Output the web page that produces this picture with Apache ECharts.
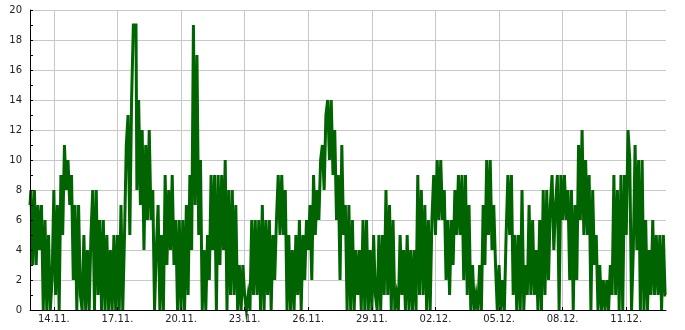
<!DOCTYPE html>
<html><head><meta charset="utf-8">
<script src="https://cdn.jsdelivr.net/npm/echarts@6/dist/echarts.min.js"></script>
<style>html,body{margin:0;padding:0;background:#fff}#c{width:685px;height:330px}</style>
</head><body><div id="c"></div>
<script>
const startTime = '2023-11-12T21:00:00Z';
const stepHours = 2;
const values = [
7,8,3,8,3,7,4,7,0,6, 0,5,0,2,8,1,7,0,9,5,
11,8,10,7,9,2,7,0,7,1, 0,5,0,4,0,5,8,0,8,1,
6,0,6,0,5,0,4,0,5,0, 5,0,7,0,5,11,13,5,14,19,
19,8,14,7,12,4,11,6,12,6, 8,0,4,7,0,5,0,9,3,8,
4,9,3,6,0,6,0,6,0,7, 1,9,4,19,7,17,5,10,0,4,
0,5,2,9,4,9,0,9,3,9, 4,10,0,8,1,8,1,7,0,3,
0,3,1,0,1,0,6,1,6,1, 6,0,7,0,6,1,6,0,5,2,
6,9,5,9,5,8,0,5,0,4, 0,5,1,6,0,5,2,6,4,7,
2,9,5,8,6,10,11,8,13,14, 10,14,9,12,6,9,2,11,5,7,
0,7,0,6,0,4,1,4,0,6, 0,6,0,4,0,5,1,0,5,0,
5,1,8,1,7,0,6,0,1,0, 5,1,4,0,5,0,4,0,4,0,
9,1,8,1,7,0,6,0,6,9, 5,10,6,10,6,8,2,6,1,6,
3,8,5,9,5,9,2,9,1,7, 0,3,0,1,0,3,0,7,3,10,
5,10,4,7,3,0,3,0,2,0, 5,9,5,9,1,5,0,5,0,8,
0,3,1,7,1,6,1,4,0,6, 0,8,1,8,2,7,9,4,7,9,
0,9,6,9,6,8,2,8,0,7, 2,11,6,12,5,10,5,9,0,8,
3,5,0,3,0,2,0,2,0,3, 1,9,1,8,0,9,0,9,5,12,
10,0,4,11,4,10,0,10,0,6, 0,4,1,6,1,5,1,5,0,5,
1
];
const tickLabels = ['14.11.','17.11.','20.11.','23.11.','26.11.','29.11.','02.12.','05.12.','08.12.','11.12.'];
const yMin = 0, yMax = 20, yStep = 2;

const t0 = Date.parse(startTime);
function hoursOf(label){
  const p = label.split('.');
  return (Date.UTC(2023, +p[1]-1, +p[0]) - t0) / 3600000;
}
const tickPos = tickLabels.map(hoursOf);
const labelAt = {};
tickLabels.forEach((l,i)=>{ labelAt[tickPos[i]] = l; });
const data = values.map((v,i)=>[i*stepHours, v]);
const spanHours = (values.length-1)*stepHours;

const chart = echarts.init(document.getElementById('c'), null, {renderer:'canvas'});
chart.setOption({
  animation:false,
  grid:{left:30,right:19,top:10,bottom:20},
  xAxis:[{
    type:'value', min:0, max:spanHours, z:5,
    axisLine:{show:true,lineStyle:{color:'#000',width:1}},
    axisTick:{show:true,inside:true,length:3,customValues:tickPos,lineStyle:{color:'#000'}},
    axisLabel:{customValues:tickPos,formatter:v=>labelAt[v]||'',fontSize:10,color:'#222',margin:4,fontFamily:'DejaVu Sans'},
    splitLine:{show:false}
  },{
    type:'value', min:0, max:spanHours, z:0, position:'bottom',
    axisLine:{show:false},
    axisTick:{show:false,customValues:tickPos},
    axisLabel:{show:false,customValues:tickPos},
    splitLine:{show:true,lineStyle:{color:'#c8c8c8',width:1}}
  }],
  yAxis:[{
    type:'value', min:yMin, max:yMax, interval:yStep, z:5,
    axisLine:{show:true,lineStyle:{color:'#000',width:1}},
    axisTick:{show:true,inside:true,length:3,lineStyle:{color:'#000'}},
    minorTick:{show:true,splitNumber:2,length:3,lineStyle:{color:'#000'}},
    axisLabel:{fontSize:10,color:'#222',margin:8,fontFamily:'DejaVu Sans'},
    splitLine:{show:false}
  },{
    type:'value', min:yMin, max:yMax, interval:yStep, z:0, position:'left',
    axisLine:{show:false}, axisTick:{show:false}, axisLabel:{show:false},
    splitLine:{show:true,lineStyle:{color:'#c8c8c8',width:1}}
  }],
  series:[{
    type:'line', xAxisIndex:0, yAxisIndex:0, step:'middle', data:data,
    symbol:'none', showSymbol:false, clip:false, z:2,
    lineStyle:{color:'#006400',width:3,cap:'butt',join:'miter'}, itemStyle:{color:'#006400'}
  }]
});
</script></body></html>
